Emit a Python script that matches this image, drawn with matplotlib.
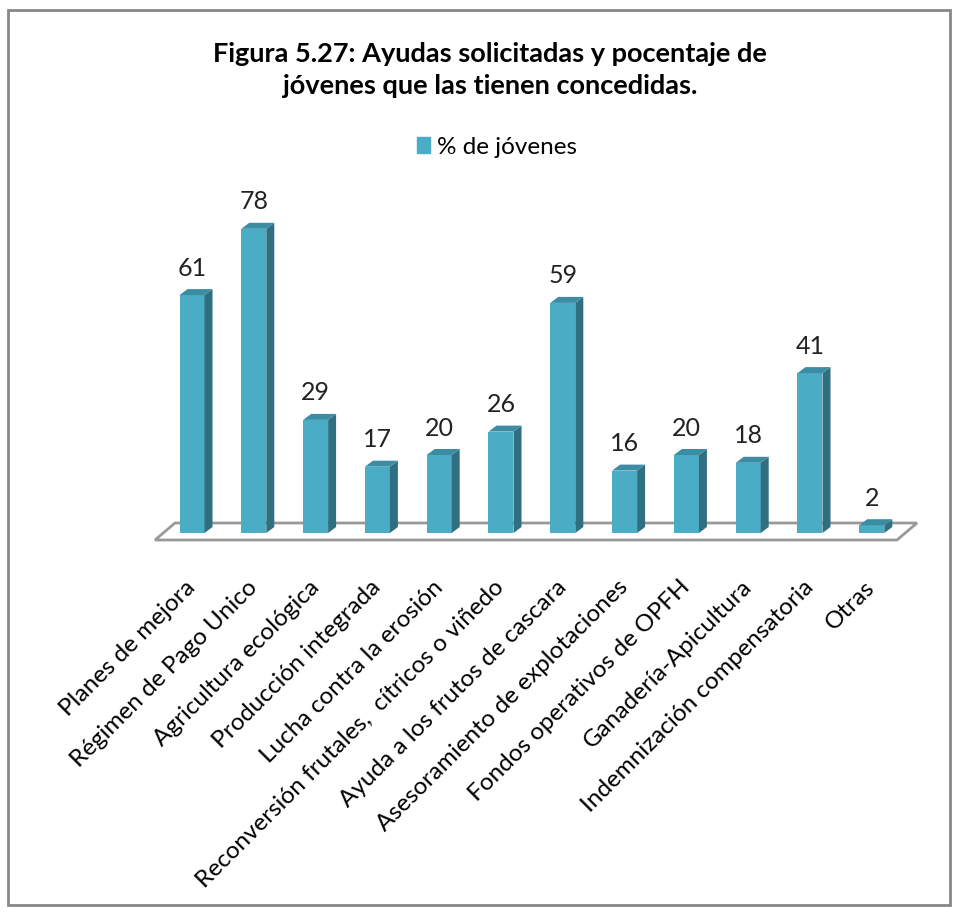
import numpy as np
import matplotlib
matplotlib.use('Agg')
import matplotlib.pyplot as plt
from matplotlib.patches import Polygon, Rectangle, Patch

# Datos del gráfico
categorias = ['Planes de mejora', 'Régimen de Pago Unico', 'Agricultura ecológica',
              'Producción integrada', 'Lucha contra la erosión',
              'Reconversión frutales,  cítricos o viñedo', 'Ayuda a los frutos de cascara',
              'Asesoramiento de explotaciones', 'Fondos operativos de OPFH',
              'Ganadería-Apicultura', 'Indemnización compensatoria', 'Otras']
porcentaje = [61, 78, 29, 17, 20, 26, 59, 16, 20, 18, 41, 2]
serie = '% de jóvenes'
titulo = 'Figura 5.27: Ayudas solicitadas y pocentaje de\njóvenes que las tienen concedidas.'

plt.rcParams['font.family'] = ['Lato', 'DejaVu Sans']

W, H = 958, 914
fig = plt.figure(figsize=(W / 100, H / 100), dpi=100)

# geometría en píxeles (estilo Excel 3D)
x0_px, paso_px = 192.0, 61.8      # centro de la primera barra, separación
y0_px, escala = 533.0, 3.9        # base de las barras, px por unidad
izq, der, arr, aba = 150, 930, 200, 545

xlim = ((izq - x0_px) / paso_px, (der - x0_px) / paso_px)
ylim = (-(aba - y0_px) / escala, (y0_px - arr) / escala)
ax = fig.add_axes([izq / W, 1 - aba / H, (der - izq) / W, (aba - arr) / H])
ax.set_xlim(*xlim)
ax.set_ylim(*ylim)

ancho = 25 / paso_px
dx = 8 / paso_px
dy = 6 / escala

frente = '#4BACC6'
lado = '#2F6F80'
tapa = '#3A8DA3'

x = np.arange(len(categorias))

# suelo
fx0, fx1 = (155 - x0_px) / paso_px, (897 - x0_px) / paso_px
fy_front, fy_back = -(540 - y0_px) / escala, (y0_px - 523) / escala
fdx = 20 / paso_px
suelo = Polygon([(fx0, fy_front), (fx1, fy_front), (fx1 + fdx, fy_back), (fx0 + fdx, fy_back)],
                closed=True, facecolor='white', edgecolor='#999999', lw=2, zorder=1)
ax.add_patch(suelo)

ax.bar(x, porcentaje, width=ancho, color=frente, zorder=3)
for xi, v in zip(x, porcentaje):
    r = xi + ancho / 2
    l = xi - ancho / 2
    ax.add_patch(Polygon([(r, 0), (r + dx, dy), (r + dx, v + dy), (r, v)],
                         closed=True, facecolor=lado, edgecolor='none', zorder=3))
    ax.add_patch(Polygon([(l, v), (r, v), (r + dx, v + dy), (l + dx, v + dy)],
                         closed=True, facecolor=tapa, edgecolor='none', zorder=3))
    ax.annotate(str(v), xy=(xi, v), xytext=(0, 27), textcoords='offset pixels',
                ha='center', va='center', fontsize=18, color='#222222')

ax.set_xticks(x)
ax.set_xticklabels(categorias, rotation=45, ha='right', va='center',
                   rotation_mode='anchor', fontsize=17.5)
ax.tick_params(axis='x', length=0, pad=28)
ax.set_yticks([])
for s in ax.spines.values():
    s.set_visible(False)
ax.patch.set_alpha(0)

# título y leyenda
fig.text(490 / W, 1 - 70 / H, titulo, ha='center', va='center', fontsize=19.5,
         fontweight='bold', linespacing=1.35)
fig.legend(handles=[Patch(color=frente)], labels=[serie], loc='center',
           bbox_to_anchor=(497 / W, 1 - 147 / H), frameon=False, fontsize=17.5,
           handlelength=0.55, handleheight=0.6, handletextpad=0.3)

# marco exterior
fig.patches.append(Rectangle((8 / W, 1 - 905 / H), 942 / W, 895 / H, transform=fig.transFigure,
                             fill=False, edgecolor='#888888', lw=2))

fig.savefig('out.png', dpi=100)
